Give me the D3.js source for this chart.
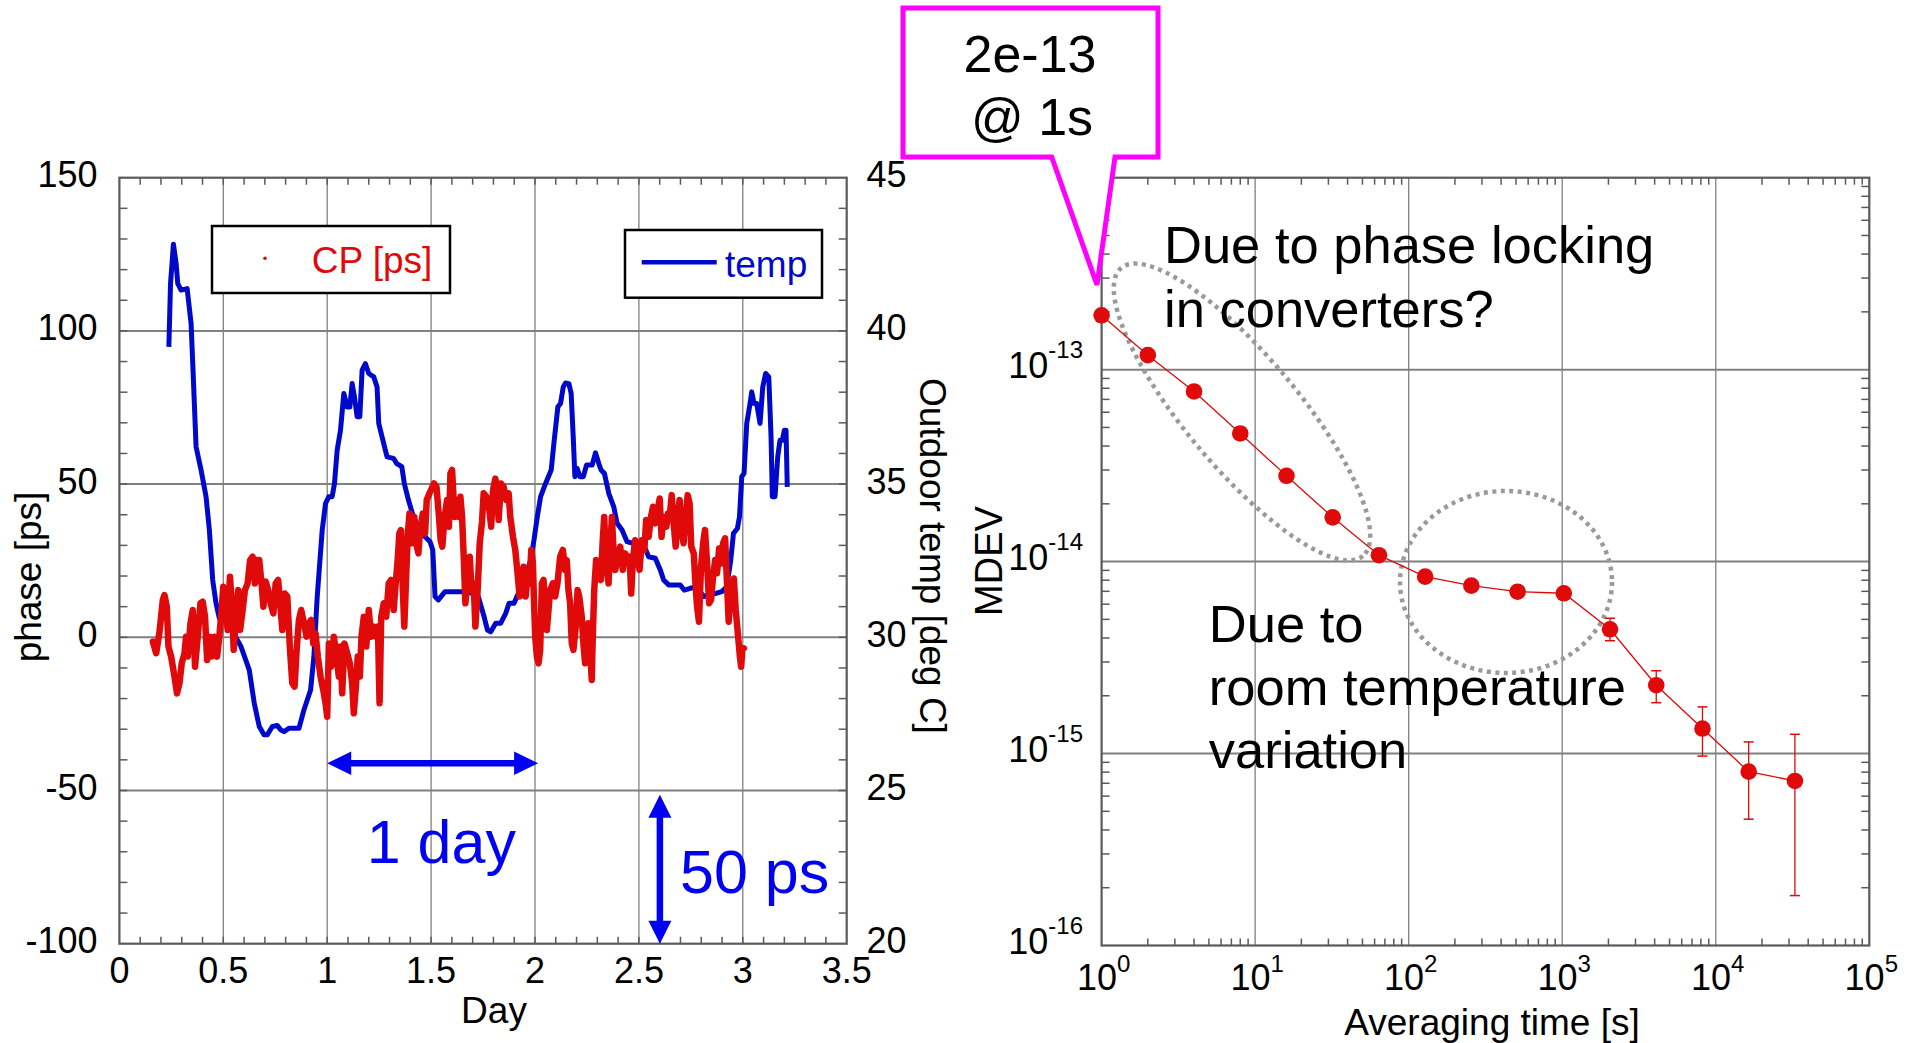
<!DOCTYPE html>
<html><head><meta charset="utf-8">
<script src="https://cdn.jsdelivr.net/npm/d3@7"></script>
<style>body{margin:0;background:#fff}svg{display:block}text{font-family:"Liberation Sans",Arial,Helvetica,sans-serif}</style>
</head><body><svg id="c" width="1916" height="1043"></svg>
<script>
// ---------- DATA ----------
const dayTicks=[0,0.5,1,1.5,2,2.5,3,3.5];
const dayTickLabels=["0","0.5","1","1.5","2","2.5","3","3.5"];
const phaseTicks=[-100,-50,0,50,100,150];
const phaseTickLabels=["-100","-50","0","50","100","150"];
const tempTicks=[20,25,30,35,40,45];
const tempTickLabels=["20","25","30","35","40","45"];

const cpDay=[0.161,0.177,0.193,0.209,0.217,0.228,0.236,0.249,0.265,0.277,0.289,0.300,0.313,0.321,0.329,0.342,0.353,0.364,0.377,0.390,0.401,0.412,0.422,0.433,0.444,0.457,0.470,0.481,0.489,0.500,0.510,0.521,0.532,0.542,0.550,0.561,0.572,0.581,0.593,0.604,0.617,0.629,0.641,0.652,0.661,0.673,0.684,0.693,0.704,0.716,0.728,0.741,0.752,0.764,
0.784,0.796,0.808,0.821,0.832,0.843,0.853,0.864,0.875,0.888,0.901,0.912,0.923,0.933,0.944,0.955,0.968,0.981,0.992,1.000,1.008,1.019,1.032,1.045,1.056,1.064,1.072,1.083,1.096,1.109,1.120,1.128,1.137,1.147,1.157,1.165,1.176,1.188,1.200,1.211,1.224,1.236,1.244,1.252,1.260,1.272,1.284,1.296,1.307,1.320,1.327,1.339,1.347,1.355,1.364,1.371,1.380,1.388,1.396,1.407,1.419,1.428,1.439,1.447,1.460,1.471,1.479,1.492,
1.514,1.526,1.538,1.546,1.554,1.565,1.577,1.586,1.593,1.601,1.613,1.622,1.633,1.641,1.649,1.657,1.665,1.676,1.686,1.695,1.705,1.713,1.724,1.734,1.745,1.753,1.766,1.777,1.789,1.798,1.809,1.817,1.825,1.836,1.849,1.862,1.873,1.881,1.894,1.905,1.916,1.926,1.937,1.945,1.955,1.964,1.974,1.982,1.990,1.996,2.001,2.009,2.017,2.025,2.033,2.041,2.049,2.057,2.065,2.073,2.086,2.097,2.108,2.121,2.134,2.145,2.153,2.161,2.169,2.177,2.185,2.196,2.205,2.213,
2.225,2.233,2.241,2.249,2.257,2.265,2.273,2.278,2.285,2.294,2.305,2.317,2.326,2.333,2.342,2.354,2.362,2.370,2.378,2.386,2.397,2.410,2.423,2.434,2.445,2.455,2.463,2.471,2.482,2.494,2.503,2.514,2.526,2.535,2.547,2.558,2.568,2.579,2.590,2.600,2.609,2.619,2.632,2.640,2.648,2.658,2.667,2.677,2.686,2.696,2.706,2.715,2.725,2.735,2.744,2.752,2.764,2.772,2.780,2.789,2.799,2.809,2.818,2.828,2.838,2.847,2.857,2.867,2.876,2.886,2.896,2.905,2.915,2.924,2.932,2.941,2.950,2.957,2.966,2.976,2.986,2.992,2.998,3.005];
const cpPhase=[-1.4,-5.2,1.8,12.2,13.8,10,-3,-6.3,-12.8,-18.3,-15,-8.5,-5.2,0.2,-6.3,4.6,8.9,-9.6,0.2,11.1,11.6,6.7,-7.4,0.2,-6.3,0.2,-6.3,0.2,6.7,16.5,10,2.4,19.8,10,-4.1,6.7,15.4,2.4,8.9,15.4,17.6,25.2,26.3,17.6,25.2,25.2,17.6,10,18.2,15.4,11.1,7.8,17.6,18.7,
2.4,14.3,13.3,-4.1,-15,-16.1,-4.1,5.7,8.9,4.6,0.2,4.6,5.7,-2,1.3,-6.3,-12.8,-17.2,-21.5,-25.9,-2,-9.6,0.2,-6.3,-12.8,-3,-18.3,-2,-5.2,-8.5,-15,-24.8,-17.2,-6.3,-12.8,0.2,6.7,-3,8.9,0.2,3.5,0.2,3.5,-21.5,6.7,11.1,6.7,17.6,18.7,8.9,15.4,25.2,33.9,35,15.4,3.5,19.8,33.9,40.4,30.7,39.3,30.7,27.4,35,40.4,33.9,44.8,47,
50.2,49.1,39.3,31.7,29.6,39.3,44.8,36.1,53.5,54.6,39.3,44.8,39.3,45.9,39.3,26.3,11.1,19.8,26.3,15.4,17.6,3.5,15.4,30.7,37.7,47,45.9,43.7,36.1,48,51.8,49.1,38.3,50.2,49.1,44.8,47,39.3,32.8,28.5,20.9,13.3,17.6,23,13.3,19.8,17.6,28.5,24.1,10,0.2,-6.3,-8.5,-4.1,17.6,18.7,10,2.4,8.9,15.4,17.6,13.3,17.6,26.3,28.5,22,25.2,15.4,11.1,-2,-4.1,3.5,15.4,13.3,
6.7,-2,-8.5,0.2,4.6,-4.1,-13.9,0.2,15.4,25.2,19.8,18.7,31.7,39.3,25.2,17.6,28.5,39.3,28.5,22,25.2,29.6,22,27.4,25.2,26.3,14.3,25.2,31.7,26.3,22,31.7,28.5,38.3,32.8,39.3,42.6,37.2,41.5,45.3,32.8,39.3,36.1,40.4,39.3,46.4,37.2,29.6,39.3,44.8,33.9,30.7,39.3,46.4,43.7,29.6,27.4,17.6,10,5.1,23,30.7,35,24.1,11.1,12.2,19.8,25.2,20.9,29,24.1,30.7,32.3,17.6,5.1,13.3,17.6,19.2,8.9,1.3,-6.3,-9.6,-4.1,-3.6];

const tempDay=[0.238,0.246,0.260,0.273,0.281,0.297,0.326,0.345,0.353,0.369,0.393,0.417,0.433,0.449,0.465,0.481,0.529,0.553,0.585,0.625,0.649,0.673,0.696,0.712,0.736,0.760,0.776,0.792,0.816,0.864,0.888,0.920,0.936,0.952,0.976,0.992,1.008,1.024,1.035,1.048,1.064,1.080,1.096,1.109,1.120,1.131,1.144,1.157,1.168,1.184,1.200,1.224,1.240,1.248,1.264,1.288,1.319,1.335,1.359,1.371,1.391,1.415,1.447,1.471,1.495,1.508,1.519,1.535,1.567,1.655,1.703,1.727,1.755,1.771,1.787,1.811,1.835,1.859,1.875,1.899,1.923,1.955,1.979,1.995,2.011,2.027,2.051,2.078,2.091,2.110,2.123,2.136,2.147,2.163,2.174,2.184,2.192,2.203,2.216,2.232,2.248,2.275,2.291,2.307,2.318,2.334,2.355,2.379,2.395,2.419,2.443,2.467,2.491,2.523,2.547,2.579,2.603,2.619,2.643,2.699,2.718,2.747,2.779,2.811,2.843,2.899,2.923,2.942,2.955,2.974,2.984,2.995,3.006,3.019,3.035,3.043,3.054,3.067,3.083,3.096,3.110,3.125,3.136,3.142,3.155,3.168,3.179,3.190,3.200,3.208,3.214];
const tempC=[39.48,41.54,42.83,42.2,41.54,41.33,41.38,40.24,38.93,36.22,35.46,34.59,33.5,31.87,31.11,30.62,30.62,30.08,29.7,28.93,27.85,27.09,26.82,26.82,27.09,27.12,26.98,26.92,27.03,27.03,27.63,28.28,29.37,31.33,33.5,34.37,34.59,34.59,35.02,36.11,36.76,37.96,37.52,37.52,38.28,37.85,37.2,37.2,38.72,38.93,38.61,38.5,38.17,36.98,36.54,35.89,35.84,35.67,35.57,35.02,34.48,33.93,33.5,33.28,33.12,32.85,31.33,31.22,31.49,31.49,31.43,31.33,30.67,30.24,30.18,30.46,30.46,30.78,31.11,31.11,31.49,31.98,32.52,33.17,33.93,34.59,35.02,35.46,36.33,37.52,37.63,38.17,38.3,38.28,37.96,36.54,35.24,35.51,35.24,35.24,35.62,35.62,36.02,35.67,35.46,35.35,34.7,34.26,33.72,33.5,33.12,33.07,33.01,33.01,32.63,32.58,32.2,31.87,31.71,31.71,31.54,31.6,31.65,31.33,31.38,31.49,31.65,32.52,33.39,33.55,33.93,35.24,35.35,36.98,37.63,38.01,37.63,37.63,36.98,38.17,38.61,38.5,36.54,34.59,34.59,35.89,36.43,36.43,36.76,36.76,34.91];

const tau=[1,2,4,8,16,32,64,128,256,512,1024,2048,4096,8192,16384,32768];
const mdev=[1.92e-13,1.19e-13,7.7e-14,4.65e-14,2.8e-14,1.70e-14,1.08e-14,8.35e-15,7.5e-15,6.97e-15,6.84e-15,4.44e-15,2.27e-15,1.35e-15,8.05e-16,7.2e-16];
const mdevErrLo=[null,null,null,null,null,null,null,null,null,null,null,3.87e-15,1.84e-15,9.7e-16,4.55e-16,1.82e-16];
const mdevErrHi=[null,null,null,null,null,null,null,null,null,null,null,5.07e-15,2.70e-15,1.75e-15,1.15e-15,1.26e-15];
const tauTickExp=[0,1,2,3,4,5];
const mdevTickExp=[-16,-15,-14,-13];

// ---------- DRAW ----------
const svg=d3.select("#c");
svg.append("rect").attr("width",1916).attr("height",1043).attr("fill","#fff");
const GRID="#808080", FRAME="#5a5a5a", RED="#e00a0a", BLUE="#0008cc", ABLUE="#0000f5";

function lines(g,data,f){
  return g.append("g").selectAll("line").data(data).join("line")
   .attr("x1",d=>f(d)[0]).attr("y1",d=>f(d)[1]).attr("x2",d=>f(d)[2]).attr("y2",d=>f(d)[3]);
}

// ===== LEFT PLOT =====
const LP={l:119.4,r:846.7,t:177.7,b:943.7};
const xD=d3.scaleLinear().domain([0,3.5]).range([LP.l,LP.r]);
const yP=d3.scaleLinear().domain([-100,150]).range([LP.b,LP.t]);
const yT=d3.scaleLinear().domain([20,45]).range([LP.b,LP.t]);
const gL=svg.append("g");

lines(gL,dayTicks.slice(1,-1),d=>[xD(d),LP.t,xD(d),LP.b]).attr("stroke",GRID).attr("stroke-width",1.3);
lines(gL,phaseTicks.slice(1,-1),d=>[LP.l,yP(d),LP.r,yP(d)]).attr("stroke",GRID).attr("stroke-width",2);

const dayMinor=d3.range(1,35).map(i=>i/10);
const phMinor=d3.range(-90,150,10);
lines(gL,dayMinor,d=>[xD(d),LP.b,xD(d),LP.b-7]).attr("stroke",FRAME).attr("stroke-width",1.5);
lines(gL,dayMinor,d=>[xD(d),LP.t,xD(d),LP.t+7]).attr("stroke",FRAME).attr("stroke-width",1.5);
lines(gL,phMinor,d=>[LP.l,yP(d),LP.l+8,yP(d)]).attr("stroke",FRAME).attr("stroke-width",1.5);
lines(gL,phMinor,d=>[LP.r,yP(d),LP.r-8,yP(d)]).attr("stroke",FRAME).attr("stroke-width",1.5);

// temp line
gL.append("path").datum(d3.range(tempDay.length))
 .attr("d",d3.line().x(i=>xD(tempDay[i])).y(i=>yT(tempC[i])))
 .attr("fill","none").attr("stroke",BLUE).attr("stroke-width",5).attr("stroke-linejoin","round");
// CP data
gL.append("path").datum(d3.range(cpDay.length))
 .attr("d",d3.line().x(i=>xD(cpDay[i])).y(i=>yP(cpPhase[i])))
 .attr("fill","none").attr("stroke",RED).attr("stroke-width",6.5).attr("stroke-linejoin","round").attr("stroke-linecap","round");

gL.append("rect").attr("x",LP.l).attr("y",LP.t).attr("width",LP.r-LP.l).attr("height",LP.b-LP.t)
 .attr("fill","none").attr("stroke",FRAME).attr("stroke-width",2.2);

// tick labels
gL.append("g").selectAll("text").data(phaseTicks).join("text")
 .attr("x",97.6).attr("y",d=>yP(d)+9.5).attr("text-anchor","end").attr("font-size",36).text((d,i)=>phaseTickLabels[i]);
gL.append("g").selectAll("text").data(tempTicks).join("text")
 .attr("x",866.5).attr("y",d=>yT(d)+9.5).attr("text-anchor","start").attr("font-size",36).text((d,i)=>tempTickLabels[i]);
gL.append("g").selectAll("text").data(dayTicks).join("text")
 .attr("x",d=>xD(d)).attr("y",983).attr("text-anchor","middle").attr("font-size",36).text((d,i)=>dayTickLabels[i]);

gL.append("text").attr("x",494).attr("y",1023).attr("text-anchor","middle").attr("font-size",37).text("Day");
gL.append("text").attr("transform","translate(41,577) rotate(-90)").attr("text-anchor","middle").attr("font-size",37).text("phase [ps]");
gL.append("text").attr("transform","translate(920,556) rotate(90)").attr("text-anchor","middle").attr("font-size",37).text("Outdoor temp [deg C]");

// legends
gL.append("rect").attr("x",212).attr("y",226).attr("width",238).attr("height",67).attr("fill","#fff").attr("stroke","#000").attr("stroke-width",2.5);
gL.append("circle").attr("cx",265).attr("cy",258.3).attr("r",1.8).attr("fill",RED);
gL.append("text").attr("x",311.7).attr("y",273.3).attr("font-size",37).attr("fill",RED).text("CP [ps]");
gL.append("rect").attr("x",625).attr("y",230).attr("width",197).attr("height",67.7).attr("fill","#fff").attr("stroke","#000").attr("stroke-width",2.5);
gL.append("line").attr("x1",641.7).attr("x2",716.7).attr("y1",262.3).attr("y2",262.3).attr("stroke",BLUE).attr("stroke-width",4.5);
gL.append("text").attr("x",725).attr("y",276.7).attr("font-size",37).attr("fill",BLUE).text("temp");

// annotation arrows
function hArrow(x1,x2,y){
  const L=24,h=11.7;
  gL.append("line").attr("x1",x1+L-2).attr("x2",x2-L+2).attr("y1",y).attr("y2",y).attr("stroke",ABLUE).attr("stroke-width",6.5);
  gL.append("path").attr("d",`M${x1},${y}L${x1+L},${y-h}L${x1+L},${y+h}Z M${x2},${y}L${x2-L},${y-h}L${x2-L},${y+h}Z`).attr("fill",ABLUE);
}
function vArrow(x,y1,y2){
  const L=23,h=11.5;
  gL.append("line").attr("x1",x).attr("x2",x).attr("y1",y1+L-2).attr("y2",y2-L+2).attr("stroke",ABLUE).attr("stroke-width",6.5);
  gL.append("path").attr("d",`M${x},${y1}L${x-h},${y1+L}L${x+h},${y1+L}Z M${x},${y2}L${x-h},${y2-L}L${x+h},${y2-L}Z`).attr("fill",ABLUE);
}
hArrow(xD(1),xD(2.015),yP(-41.1));
vArrow(xD(2.601),yP(-51.4),yP(-100));
gL.append("text").attr("x",xD(1.19)).attr("y",yP(-73.7)).attr("font-size",61).attr("fill",ABLUE).text("1 day");
gL.append("text").attr("x",xD(2.698)).attr("y",yP(-83.5)).attr("font-size",61).attr("fill",ABLUE).text("50 ps");

// ===== RIGHT PLOT =====
const RP={l:1101.6,r:1869.3,t:177.7,b:945.5};
const xTau=d3.scaleLog().domain([1,1e5]).range([RP.l,RP.r]);
const yM=d3.scaleLog().domain([1e-16,1e-12]).range([RP.b,RP.t]);
const gR=svg.append("g");
lines(gR,[1,2,3,4],e=>[xTau(Math.pow(10,e)),RP.t,xTau(Math.pow(10,e)),RP.b]).attr("stroke",GRID).attr("stroke-width",1.3);
lines(gR,[-15,-14,-13],e=>[RP.l,yM(Math.pow(10,e)),RP.r,yM(Math.pow(10,e))]).attr("stroke",GRID).attr("stroke-width",2);
const tauMinor=[];[0,1,2,3,4].forEach(e=>{for(let m=2;m<=9;m++)tauMinor.push(m*Math.pow(10,e));});
const mMinor=[];[-16,-15,-14,-13].forEach(e=>{for(let m=2;m<=9;m++)mMinor.push(m*Math.pow(10,e));});
lines(gR,tauMinor,d=>[xTau(d),RP.b,xTau(d),RP.b-7]).attr("stroke",FRAME).attr("stroke-width",1.5);
lines(gR,tauMinor,d=>[xTau(d),RP.t,xTau(d),RP.t+7]).attr("stroke",FRAME).attr("stroke-width",1.5);
lines(gR,mMinor,d=>[RP.l,yM(d),RP.l+8,yM(d)]).attr("stroke",FRAME).attr("stroke-width",1.5);
lines(gR,mMinor,d=>[RP.r,yM(d),RP.r-8,yM(d)]).attr("stroke",FRAME).attr("stroke-width",1.5);
gR.append("rect").attr("x",RP.l).attr("y",RP.t).attr("width",RP.r-RP.l).attr("height",RP.b-RP.t)
 .attr("fill","none").attr("stroke",FRAME).attr("stroke-width",2.2);

// dotted ellipses
gR.append("ellipse").attr("transform","translate(1242,412) rotate(50)").attr("rx",188).attr("ry",56)
 .attr("fill","none").attr("stroke","#9a9a9a").attr("stroke-width",4.5).attr("stroke-dasharray","4 4.5");
gR.append("ellipse").attr("cx",1506).attr("cy",582).attr("rx",106).attr("ry",91)
 .attr("fill","none").attr("stroke","#9a9a9a").attr("stroke-width",4.5).attr("stroke-dasharray","4 4.5");

// MDEV line, error bars, markers
gR.append("path").datum(d3.range(tau.length))
 .attr("d",d3.line().x(i=>xTau(tau[i])).y(i=>yM(mdev[i])))
 .attr("fill","none").attr("stroke",RED).attr("stroke-width",1.3);
const eIdx=d3.range(tau.length).filter(i=>mdevErrLo[i]!==null);
lines(gR,eIdx,i=>[xTau(tau[i]),yM(mdevErrLo[i]),xTau(tau[i]),yM(mdevErrHi[i])]).attr("stroke",RED).attr("stroke-width",1.3);
lines(gR,eIdx,i=>[xTau(tau[i])-5,yM(mdevErrLo[i]),xTau(tau[i])+5,yM(mdevErrLo[i])]).attr("stroke",RED).attr("stroke-width",1.5);
lines(gR,eIdx,i=>[xTau(tau[i])-5,yM(mdevErrHi[i]),xTau(tau[i])+5,yM(mdevErrHi[i])]).attr("stroke",RED).attr("stroke-width",1.5);
gR.append("g").selectAll("circle").data(d3.range(tau.length)).join("circle")
 .attr("cx",i=>xTau(tau[i])).attr("cy",i=>yM(mdev[i])).attr("r",8.3).attr("fill",RED);

// tick labels with superscripts
const yl=gR.append("g").selectAll("text").data(mdevTickExp).join("text")
 .attr("x",1083).attr("y",e=>yM(Math.pow(10,e))+8).attr("text-anchor","end").attr("font-size",36);
yl.append("tspan").text("10");
yl.append("tspan").attr("dy",-20).attr("font-size",24).text(e=>String(e).replace("−","-"));
const xl=gR.append("g").selectAll("text").data(tauTickExp).join("text")
 .attr("x",e=>xTau(Math.pow(10,e))+2).attr("y",990).attr("text-anchor","middle").attr("font-size",36);
xl.append("tspan").text("10");
xl.append("tspan").attr("dy",-18).attr("font-size",24).text(e=>String(e));

gR.append("text").attr("transform","translate(1002,561) rotate(-90)").attr("text-anchor","middle").attr("font-size",38).text("MDEV");
gR.append("text").attr("x",1492).attr("y",1035).attr("text-anchor","middle").attr("font-size",37).text("Averaging time [s]");

// annotations
const ann=[["Due to phase locking",1164,263.3],["in converters?",1164,326.7],["Due to",1208.8,641.7],["room temperature",1208.8,705],["variation",1208.8,768.3]];
gR.append("g").selectAll("text").data(ann).join("text").attr("x",d=>d[1]).attr("y",d=>d[2]).attr("font-size",52.5).text(d=>d[0]);

// callout
const co=svg.append("g");
co.append("path").attr("d","M903,8H1158V157H1115L1097,285L1051.7,157H903Z")
 .attr("fill","#fff").attr("stroke","#ff00ff").attr("stroke-width",5);
co.append("text").attr("x",1030).attr("y",71.7).attr("text-anchor","middle").attr("font-size",52).text("2e-13");
co.append("text").attr("x",1032).attr("y",135).attr("text-anchor","middle").attr("font-size",52).text("@ 1s");
</script></body></html>
